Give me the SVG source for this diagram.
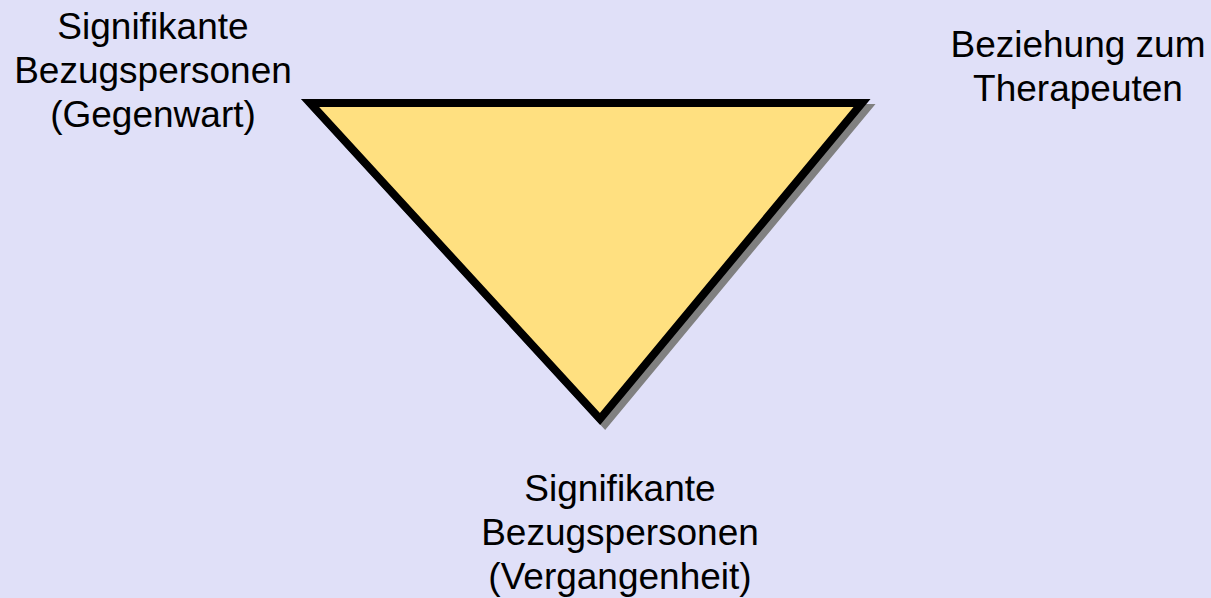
<svg xmlns="http://www.w3.org/2000/svg" width="1211" height="598" viewBox="0 0 1211 598">
<style>
.lbl{font-family:"Liberation Sans",Arial,sans-serif;font-size:37px;fill:#000;text-anchor:middle}
.tri{stroke-width:8;stroke-linejoin:miter;stroke-miterlimit:10}
</style>
<rect width="1211" height="598" fill="#E0E0F8"/>
<g id="triangle">
<polygon class="tri" points="310,103 862,103 600,419" transform="translate(5,5)" fill="#808080" stroke="#808080"/>
<polygon class="tri" points="310,103 862,103 600,419" fill="#FFE080" stroke="#000"/>
</g>
<g id="label-gegenwart">
<text class="lbl" x="153" y="39">Signifikante</text>
<text class="lbl" x="153" y="83">Bezugspersonen</text>
<text class="lbl" x="153" y="127">(Gegenwart)</text>
</g>
<g id="label-therapeut">
<text class="lbl" x="1078" y="57">Beziehung zum</text>
<text class="lbl" x="1078" y="101">Therapeuten</text>
</g>
<g id="label-vergangenheit">
<text class="lbl" x="620" y="501">Signifikante</text>
<text class="lbl" x="620" y="545">Bezugspersonen</text>
<text class="lbl" x="620" y="589">(Vergangenheit)</text>
</g>
<g id="connectors"/>
</svg>
